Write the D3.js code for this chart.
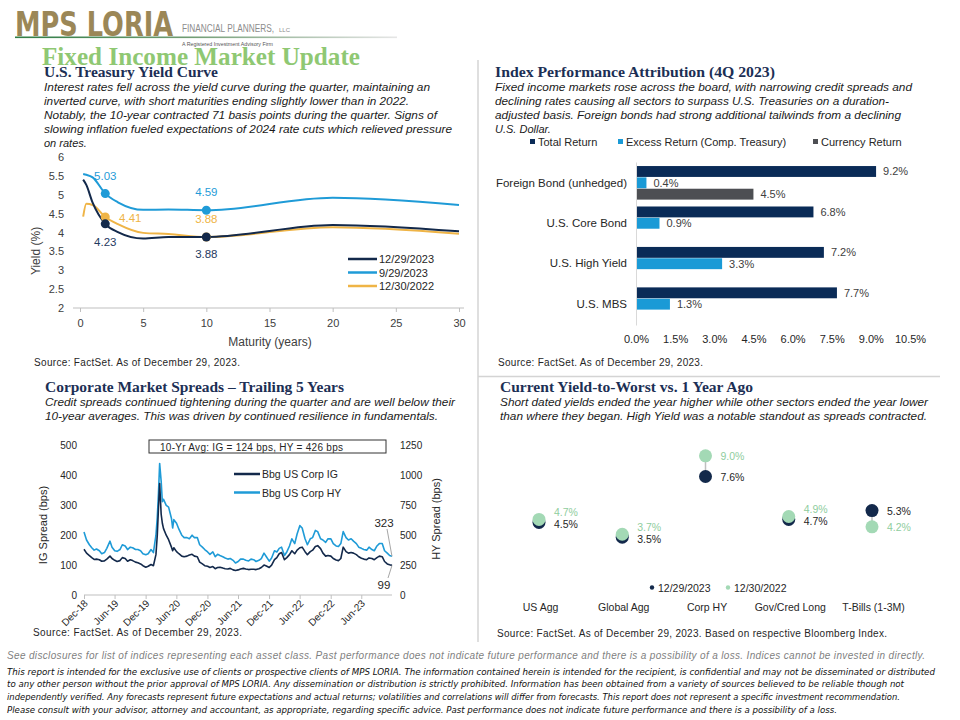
<!DOCTYPE html>
<html>
<head>
<meta charset="utf-8">
<script src="https://cdn.jsdelivr.net/npm/d3@7.9.0/dist/d3.min.js"></script>
<style>
  body { margin: 0; background: #fff; }
  svg { display: block; font-family: "Liberation Sans", Arial, sans-serif; }
</style>
</head>
<body>
<svg id="page" width="960" height="720"></svg>
<script>
// ---------- data ----------
// Treasury yield curve
const maturities = [0.25, 0.5, 1, 2, 3, 5, 7, 10, 20, 30];
const curveDates = ['12/29/2023', '9/29/2023', '12/30/2022'];
const yieldsDec23 = [5.40, 5.26, 4.79, 4.23, 4.01, 3.84, 3.88, 3.88, 4.20, 4.03];
const yieldsSep23 = [5.55, 5.53, 5.46, 5.03, 4.80, 4.60, 4.61, 4.59, 4.92, 4.73];
const yieldsDec22 = [4.42, 4.76, 4.73, 4.41, 4.22, 3.99, 3.96, 3.88, 4.14, 3.97];
const markedMaturities = [2, 10];
const yieldTicks = [2, 2.5, 3, 3.5, 4, 4.5, 5, 5.5, 6];
const maturityTicks = [0, 5, 10, 15, 20, 25, 30];

// Index performance attribution
const sectors = ['Foreign Bond (unhedged)', 'U.S. Core Bond', 'U.S. High Yield', 'U.S. MBS'];
const returnSeries = ['Total Return', 'Excess Return (Comp. Treasury)', 'Currency Return'];
const totalReturn = [9.2, 6.8, 7.2, 7.7];
const excessReturn = [0.4, 0.9, 3.3, 1.3];
const currencyReturn = [4.5, null, null, null];
const returnTicks = [0, 1.5, 3, 4.5, 6, 7.5, 9, 10.5];

// Corporate spreads (bps)
const spreadDates = [
  '2018-12-31','2019-01-15','2019-02-01','2019-02-15','2019-03-01','2019-03-15','2019-04-01','2019-04-15',
  '2019-05-01','2019-05-15','2019-06-03','2019-06-15','2019-07-01','2019-07-15','2019-08-01','2019-08-15',
  '2019-09-01','2019-09-15','2019-10-01','2019-10-15','2019-11-01','2019-11-15','2019-12-01','2019-12-15',
  '2020-01-01','2020-01-15','2020-02-01','2020-02-15','2020-03-01','2020-03-09','2020-03-16','2020-03-23',
  '2020-04-01','2020-04-08','2020-04-15','2020-05-01','2020-05-15','2020-06-01','2020-06-08','2020-06-15',
  '2020-07-01','2020-07-15','2020-08-01','2020-08-15','2020-09-01','2020-09-15','2020-10-01','2020-10-15',
  '2020-11-01','2020-11-15','2020-12-01','2020-12-15',
  '2021-01-01','2021-01-15','2021-02-01','2021-02-15','2021-03-01','2021-03-15','2021-04-01','2021-04-15',
  '2021-05-01','2021-05-15','2021-06-01','2021-06-15','2021-07-01','2021-07-15','2021-08-01','2021-08-15',
  '2021-09-01','2021-09-15','2021-10-01','2021-10-15','2021-11-01','2021-11-15','2021-12-01','2021-12-15',
  '2022-01-01','2022-01-15','2022-02-01','2022-02-15','2022-03-01','2022-03-15','2022-04-01','2022-04-15',
  '2022-05-01','2022-05-15','2022-06-01','2022-06-15','2022-07-01','2022-07-15','2022-08-01','2022-08-15',
  '2022-09-01','2022-09-15','2022-10-01','2022-10-15','2022-11-01','2022-11-15','2022-12-01','2022-12-15',
  '2023-01-01','2023-01-15','2023-02-01','2023-02-15','2023-03-01','2023-03-15','2023-04-01','2023-04-15',
  '2023-05-01','2023-05-15','2023-06-01','2023-06-15','2023-07-01','2023-07-15','2023-08-01','2023-08-15',
  '2023-09-01','2023-09-15','2023-10-01','2023-10-15','2023-11-01','2023-11-15','2023-12-01','2023-12-15',
  '2023-12-29'
];
const igSpread = [
  153,140,132,125,119,120,118,113,114,120,130,122,116,112,115,125,122,113,118,115,110,108,104,98,
  93,96,102,98,135,200,290,373,270,240,222,200,185,160,148,158,145,138,130,128,130,134,136,130,128,110,104,98,
  96,92,95,88,92,93,90,88,87,89,84,82,84,87,89,87,85,86,86,85,88,92,100,97,
  92,100,118,125,138,142,118,125,135,148,138,150,158,160,145,135,145,150,162,165,155,140,130,132,
  130,122,117,115,122,160,145,140,142,140,135,128,123,120,118,124,122,118,125,130,128,112,104,101,99
];
const hySpread = [
  526,460,420,395,375,385,370,345,355,390,450,400,370,365,380,420,410,380,400,395,380,380,370,345,
  336,345,380,355,500,650,850,1100,950,780,800,750,735,640,560,630,600,550,500,480,480,470,500,480,480,420,400,380,
  360,340,360,320,340,330,320,310,300,305,290,268,280,300,300,290,285,300,295,280,290,305,350,320,
  283,310,370,360,390,400,330,360,410,470,430,510,580,560,470,420,470,480,540,530,470,460,440,470,
  469,430,410,405,430,530,480,460,470,450,430,400,390,380,375,400,380,370,410,430,430,370,350,330,323
];
const spreadNames = ['Bbg US Corp IG', 'Bbg US Corp HY'];
const spreadTickDates = ['2018-12-31','2019-06-30','2019-12-31','2020-06-30','2020-12-31',
  '2021-06-30','2021-12-31','2022-06-30','2022-12-31','2023-06-30'];
const igTicks = [0, 100, 200, 300, 400, 500];
const hyTicks = [0, 250, 500, 750, 1000, 1250];

// Yield-to-worst
const ytwSectors = ['US Agg', 'Global Agg', 'Corp HY', 'Gov/Cred Long', 'T-Bills (1-3M)'];
const ytwDates = ['12/29/2023', '12/30/2022'];
const ytwNow = [4.5, 3.5, 7.6, 4.7, 5.3];
const ytwYearAgo = [4.7, 3.7, 9.0, 4.9, 4.2];

// ---------- helpers ----------
const sans = '"Liberation Sans", Arial, sans-serif';
const serif = '"Liberation Serif", Georgia, serif';
const navy = '#13294b';
const svg = d3.select('#page');

function addText(parent, x, y, str, size, o = {}) {
  const t = parent.append('text').attr('x', x).attr('y', y).attr('font-size', size).text(str);
  t.attr('fill', o.fill || '#262626');
  if (o.anchor) t.attr('text-anchor', o.anchor);
  if (o.italic) t.attr('font-style', 'italic');
  if (o.bold) t.attr('font-weight', 'bold');
  if (o.family) t.attr('font-family', o.family);
  if (o.len) t.attr('textLength', o.len).attr('lengthAdjust', o.adjust || 'spacing');
  return t;
}

function title(x, y, str, len) {
  addText(svg, x, y, str, 14, { family: serif, bold: true, fill: '#1c2f55', len, adjust: 'spacingAndGlyphs' });
}

// widths only for full lines; a short last line keeps its natural width
function paragraph(x, y0, lines, widths) {
  lines.forEach((l, i) => addText(svg, x, y0 + i * 14.1, l, 11,
    { italic: true, fill: '#1a1a1a', len: widths[i], adjust: 'spacingAndGlyphs' }));
}

function styleAxis(g, size, color) {
  g.attr('font-family', sans).attr('font-size', size).attr('color', color);
  g.selectAll('.tick line').attr('stroke', '#bfbfbf');
}

// ---------- header ----------
const grad = svg.append('defs').append('linearGradient').attr('id', 'rule');
grad.append('stop').attr('offset', '0%').attr('stop-color', '#2f7d45');
grad.append('stop').attr('offset', '45%').attr('stop-color', '#6f9c72');
grad.append('stop').attr('offset', '100%').attr('stop-color', '#e6e6e6');
svg.append('rect').attr('x', 15).attr('y', 36.5).attr('width', 382).attr('height', 1.6).attr('fill', 'url(#rule)');

addText(svg, 15, 36, 'MPS LORIA', 34, { family: '"DejaVu Sans", sans-serif', bold: true,
  fill: '#9b8757', len: 158, adjust: 'spacingAndGlyphs' });
addText(svg, 182, 31.5, 'FINANCIAL PLANNERS,', 10, { fill: '#8c8c8c', len: 92, adjust: 'spacingAndGlyphs' });
addText(svg, 279, 31.5, 'LLC', 6, { fill: '#8c8c8c' });
addText(svg, 182, 45.5, 'A Registered Investment Advisory Firm', 5.5, { fill: '#555', len: 91, adjust: 'spacingAndGlyphs' });
addText(svg, 42, 65, 'Fixed Income Market Update', 26, { family: serif, bold: true, fill: '#8fc873',
  len: 318, adjust: 'spacingAndGlyphs' });

// dividers
svg.append('line').attr('x1', 478).attr('x2', 478).attr('y1', 60).attr('y2', 642)
  .attr('stroke', '#d4d4d4').attr('stroke-width', 1.5);
svg.append('line').attr('x1', 478).attr('x2', 940).attr('y1', 376.5).attr('y2', 376.5)
  .attr('stroke', '#d4d4d4').attr('stroke-width', 1.5);

// ---------- panel 1: treasury yield curve ----------
title(44, 76.5, 'U.S. Treasury Yield Curve', 174);
paragraph(44, 90.5, [
  'Interest rates fell across the yield curve during the quarter, maintaining an',
  'inverted curve, with short maturities ending slightly lower than in 2022.',
  'Notably, the 10-year contracted 71 basis points during the quarter. Signs of',
  'slowing inflation fueled expectations of 2024 rate cuts which relieved pressure',
  'on rates.'
], [386, 365, 393, 408, null]);

const xM = d3.scaleLinear().domain([0, 30]).range([80, 459]);
const yY = d3.scaleLinear().domain([2, 6]).range([308, 157]);
const curveColors = [navy, '#1f9bd7', '#efb446'];
const curveSeries = [yieldsDec23, yieldsSep23, yieldsDec22];

const yc = svg.append('g');
yc.append('g').attr('transform', 'translate(67,0)')
  .call(d3.axisLeft(yY).tickValues(yieldTicks).tickSize(0).tickPadding(3).tickFormat(d3.format('~g')))
  .call(g => g.select('.domain').remove())
  .call(g => styleAxis(g, 11, '#404040'));
yc.append('line').attr('x1', 73).attr('x2', 464).attr('y1', yY(2)).attr('y2', yY(2)).attr('stroke', '#bfbfbf');
yc.append('g').attr('transform', `translate(0,${yY(2)})`)
  .call(d3.axisBottom(xM).tickValues(maturityTicks).tickSize(4).tickPadding(7))
  .call(g => g.select('.domain').remove())
  .call(g => styleAxis(g, 11, '#404040'));
addText(yc, 270, 346, 'Maturity (years)', 12, { anchor: 'middle', fill: '#404040' });
addText(yc, 0, 0, 'Yield (%)', 12, { anchor: 'middle', fill: '#404040' })
  .attr('transform', 'translate(40,251) rotate(-90)');

const ycLine = d3.line().x((d, i) => xM(maturities[i])).y(d => yY(d)).curve(d3.curveMonotoneX);
// draw back to front: Dec-22, Sep-23, Dec-23
[2, 1, 0].forEach(k => {
  yc.append('path').attr('d', ycLine(curveSeries[k])).attr('fill', 'none')
    .attr('stroke', curveColors[k]).attr('stroke-width', 2);
});
// markers and labels
const labelPlacement = [
  { dx: [0, 0], dy: [18, 17] },        // 12/29/2023 below
  { dx: [0, 0], dy: [-18, -18] },      // 9/29/2023 above
  { dx: [25, 0], dy: [1, -18] }        // 12/30/2022
];
[2, 1, 0].forEach(k => {
  markedMaturities.forEach((m, j) => {
    const v = curveSeries[k][maturities.indexOf(m)];
    const cx = xM(m), cy = yY(v);
    yc.append('circle').attr('cx', cx).attr('cy', cy).attr('r', 4.5).attr('fill', curveColors[k]);
    addText(yc, cx + labelPlacement[k].dx[j], cy + labelPlacement[k].dy[j] + 4, v.toFixed(2), 11.5,
      { anchor: 'middle', fill: curveColors[k] === navy ? '#1f3a5f' : curveColors[k] });
  });
});
curveDates.forEach((d, i) => {
  const y = 259 + i * 13.5;
  yc.append('line').attr('x1', 348).attr('x2', 377).attr('y1', y).attr('y2', y)
    .attr('stroke', curveColors[i]).attr('stroke-width', 2.5);
  addText(yc, 379, y + 4, d, 11, { fill: '#262626' });
});
addText(svg, 34, 365.5, 'Source: FactSet. As of December 29, 2023.', 10, { fill: '#262626', len: 206 });

// ---------- panel 2: index performance attribution ----------
title(495, 76.5, 'Index Performance Attribution (4Q 2023)', 280);
paragraph(495, 91, [
  'Fixed income markets rose across the board, with narrowing credit spreads and',
  'declining rates causing all sectors to surpass U.S. Treasuries on a duration-',
  'adjusted basis. Foreign bonds had strong additional tailwinds from a declining',
  'U.S. Dollar.'
], [417, 394, 406, null]);

const barColors = ['#0a2b57', '#1a9ad6', '#4d4f53'];
const returnValues = [totalReturn, excessReturn, currencyReturn];
const legendX = [530, 618, 813];
returnSeries.forEach((s, i) => {
  svg.append('rect').attr('x', legendX[i]).attr('y', 139).attr('width', 5).attr('height', 5).attr('fill', barColors[i]);
  addText(svg, legendX[i] + 8, 145.5, s, 11, { fill: '#262626' });
});

const xR = d3.scaleLinear().domain([0, 10.5]).range([636, 910]);
const yS = d3.scaleBand().domain(sectors).range([162, 325]).paddingInner(0.17).paddingOuter(0.1);
const yInner = d3.scaleBand().domain(returnSeries).range([0, yS.bandwidth()]).paddingInner(0.04);
const bc = svg.append('g');
sectors.forEach((sec, i) => {
  returnSeries.forEach((s, k) => {
    const v = returnValues[k][i];
    if (v == null) return;
    const y = yS(sec) + yInner(s);
    bc.append('rect').attr('x', xR(0)).attr('y', y).attr('width', xR(v) - xR(0))
      .attr('height', yInner.bandwidth()).attr('fill', barColors[k]);
    addText(bc, xR(v) + 7, y + yInner.bandwidth() / 2 + 4, v.toFixed(1) + '%', 11, { fill: '#404040' });
  });
});
bc.append('g').attr('transform', 'translate(636,0)')
  .call(d3.axisLeft(yS).tickSize(0).tickPadding(9))
  .call(g => g.select('.domain').attr('stroke', '#d9d9d9'))
  .call(g => styleAxis(g, 11.5, '#262626'));
bc.append('g').attr('transform', 'translate(0,325)')
  .call(d3.axisBottom(xR).tickValues(returnTicks).tickSize(0).tickPadding(10).tickFormat(d => d.toFixed(1) + '%'))
  .call(g => g.select('.domain').remove())
  .call(g => styleAxis(g, 11, '#262626'));
addText(svg, 498, 366, 'Source: FactSet. As of December 29, 2023.', 10, { fill: '#262626', len: 205 });

// ---------- panel 3: corporate spreads ----------
title(45, 391.5, 'Corporate Market Spreads \u2013 Trailing 5 Years', 299);
paragraph(45, 405.5, [
  'Credit spreads continued tightening during the quarter and are well below their',
  '10-year averages. This was driven by continued resilience in fundamentals.'
], [410, 393]);

const parseDay = d3.utcParse('%Y-%m-%d');
const sDates = spreadDates.map(parseDay);
const xT = d3.scaleUtc().domain([parseDay('2018-12-31'), parseDay('2023-12-29')]).range([84, 392]);
const yIG = d3.scaleLinear().domain([0, 500]).range([595, 445.5]);
const yHY = d3.scaleLinear().domain([0, 1250]).range([595, 445.5]);
const sp = svg.append('g');

sp.append('g').attr('transform', 'translate(80,0)')
  .call(d3.axisLeft(yIG).tickValues(igTicks).tickSize(0).tickPadding(3))
  .call(g => g.select('.domain').remove())
  .call(g => styleAxis(g, 10, '#262626'));
sp.append('g').attr('transform', 'translate(397,0)')
  .call(d3.axisRight(yHY).tickValues(hyTicks).tickSize(0).tickPadding(3).tickFormat(d3.format('d')))
  .call(g => g.select('.domain').remove())
  .call(g => styleAxis(g, 10, '#262626'));
sp.append('line').attr('x1', 84).attr('x2', 392).attr('y1', 595).attr('y2', 595).attr('stroke', '#bfbfbf');
sp.append('g').attr('transform', 'translate(0,595)')
  .call(d3.axisBottom(xT).tickValues(spreadTickDates.map(parseDay)).tickSize(4).tickFormat(d3.utcFormat('%b-%y')))
  .call(g => g.select('.domain').remove())
  .call(g => styleAxis(g, 10, '#262626'))
  .call(g => g.selectAll('.tick text').attr('y', 0).attr('dy', 0)
    .attr('text-anchor', 'end').attr('transform', 'translate(4,9) rotate(-45)'));
addText(sp, 0, 0, 'IG Spread (bps)', 11, { anchor: 'middle' }).attr('transform', 'translate(47,525) rotate(-90)');
addText(sp, 0, 0, 'HY Spread (bps)', 11, { anchor: 'middle' }).attr('transform', 'translate(440,519) rotate(-90)');

sp.append('rect').attr('x', 149).attr('y', 440).attr('width', 237).attr('height', 13)
  .attr('fill', '#fff').attr('stroke', '#333').attr('stroke-width', 1);
addText(sp, 160, 450.5, '10-Yr Avg: IG = 124 bps, HY =  426 bps', 10, { fill: '#262626', len: 183 });

const spreadColors = [navy, '#1f9bd7'];
const hyLine = d3.line().x((d, i) => xT(sDates[i])).y(d => yHY(d));
const igLine = d3.line().x((d, i) => xT(sDates[i])).y(d => yIG(d));
sp.append('path').attr('d', hyLine(hySpread)).attr('fill', 'none').attr('stroke', spreadColors[1])
  .attr('stroke-width', 1.6).attr('stroke-linejoin', 'round');
sp.append('path').attr('d', igLine(igSpread)).attr('fill', 'none').attr('stroke', spreadColors[0])
  .attr('stroke-width', 1.6).attr('stroke-linejoin', 'round');

spreadNames.forEach((n, i) => {
  const y = 474 + i * 18.5;
  sp.append('line').attr('x1', 234).attr('x2', 260).attr('y1', y).attr('y2', y)
    .attr('stroke', spreadColors[i]).attr('stroke-width', 2.5);
  addText(sp, 262, y + 4, n, 10.5, { fill: '#262626' });
});
const lastDate = sDates[sDates.length - 1];
const lastHY = hySpread[hySpread.length - 1], lastIG = igSpread[igSpread.length - 1];
sp.append('line').attr('x1', xT(lastDate)).attr('y1', yHY(lastHY)).attr('x2', 387).attr('y2', 529)
  .attr('stroke', '#a6a6a6');
sp.append('line').attr('x1', xT(lastDate)).attr('y1', yIG(lastIG)).attr('x2', 388).attr('y2', 578)
  .attr('stroke', '#a6a6a6');
addText(sp, 384, 526.5, String(lastHY), 11.5, { anchor: 'middle' });
addText(sp, 384, 589, String(lastIG), 11.5, { anchor: 'middle' });
addText(svg, 33, 636, 'Source: FactSet. As of December 29, 2023.', 10, { fill: '#262626', len: 209 });

// ---------- panel 4: yield-to-worst ----------
title(500, 391.5, 'Current Yield-to-Worst vs. 1 Year Ago', 253);
paragraph(500, 405.5, [
  'Short dated yields ended the year higher while other sectors ended the year lower',
  'than where they  began. High Yield was a notable standout as spreads contracted.'
], [428, 427]);

const xP = d3.scalePoint().domain(ytwSectors).range([539, 872]);
const yP = d3.scaleLinear().domain([0, 10]).range([589, 441]);
const dotColors = [navy, '#a3d9b5'];
const dotLabelColors = ['#262626', '#8fcd9e'];
const dp = svg.append('g');

ytwSectors.forEach((s, i) => {
  dp.append('line').attr('x1', xP(s)).attr('x2', xP(s)).attr('y1', yP(ytwNow[i])).attr('y2', yP(ytwYearAgo[i]))
    .attr('stroke', '#bfbfbf').attr('stroke-width', 1.5);
});
[ytwNow, ytwYearAgo].forEach((vals, k) => {
  dp.selectAll(null).data(vals).join('circle')
    .attr('cx', (d, i) => xP(ytwSectors[i])).attr('cy', d => yP(d))
    .attr('r', 6.5).attr('fill', dotColors[k]);
});
ytwSectors.forEach((s, i) => {
  const close = Math.abs(ytwNow[i] - ytwYearAgo[i]) < 1;
  const upper = ytwYearAgo[i] >= ytwNow[i] ? 1 : 0;
  [ytwNow[i], ytwYearAgo[i]].forEach((v, k) => {
    let cy = yP(v);
    if (close) cy += (k === upper) ? -7.5 : 1.5;
    addText(dp, xP(s) + 15, cy + 4, v.toFixed(1) + '%', 10.5, { fill: dotLabelColors[k] });
  });
});
dp.append('g').attr('transform', 'translate(1,600)')
  .call(d3.axisBottom(xP).tickSize(0).tickPadding(3.5))
  .call(g => g.select('.domain').remove())
  .call(g => styleAxis(g, 10.5, '#262626'));
const ytwLegendX = [652, 728];
ytwDates.forEach((d, i) => {
  dp.append('circle').attr('cx', ytwLegendX[i]).attr('cy', 587.5).attr('r', 2.2).attr('fill', dotColors[i]);
  addText(dp, ytwLegendX[i] + 6, 591.5, d, 10.5, { fill: '#262626' });
});
addText(svg, 497, 637, 'Source: FactSet. As of December 29, 2023. Based on respective Bloomberg Index.', 10,
  { fill: '#262626', len: 390 });

// ---------- footer ----------
addText(svg, 7, 659, 'See disclosures for list of indices representing each asset class. Past performance does not indicate future performance and there is a possibility of a loss. Indices cannot be invested in directly.',
  10, { italic: true, fill: '#7f7f7f', len: 918 });
const foot = [
  'This report is intended for the exclusive use of clients or prospective clients of MPS LORIA. The information contained herein is intended for the recipient, is confidential and may not be disseminated or distributed',
  'to any other person without the prior approval of MPS LORIA. Any dissemination or distribution is strictly prohibited. Information has been obtained from a variety of sources believed to be reliable though not',
  'independently verified. Any forecasts represent future expectations and actual returns; volatilities and correlations will differ from forecasts. This report does not represent a specific investment recommendation.',
  'Please consult with your advisor, attorney and accountant, as appropriate, regarding specific advice. Past performance does not indicate future performance and there is a possibility of a loss.'
];
const footWidths = [928, 897, 893, 830];
foot.forEach((l, i) => addText(svg, 7, 674.5 + i * 12.7, l, 9.5,
  { italic: true, fill: '#111', family: '"Liberation Sans Narrow", "DejaVu Sans Condensed", sans-serif',
    len: footWidths[i], adjust: 'spacingAndGlyphs' }));
</script>
</body>
</html>
